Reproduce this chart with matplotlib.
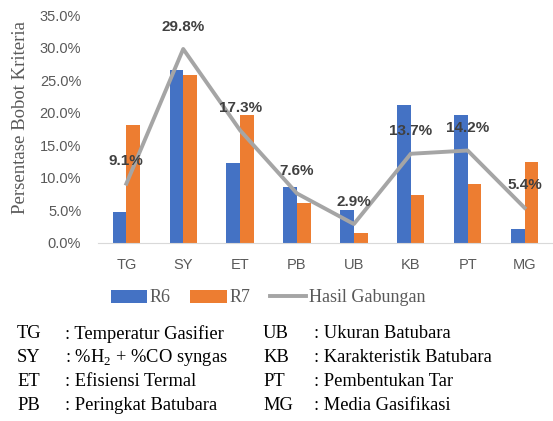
import numpy as np
import matplotlib
matplotlib.use('Agg')
import matplotlib.pyplot as plt

plt.rcParams['mathtext.fontset'] = 'custom'
plt.rcParams['mathtext.rm'] = 'Liberation Serif'

# data (percent)
categories = ['TG', 'SY', 'ET', 'PB', 'UB', 'KB', 'PT', 'MG']
r6 = [4.8, 26.5, 12.3, 8.6, 5.0, 21.2, 19.7, 2.1]
r7 = [18.1, 25.8, 19.7, 6.2, 1.5, 7.3, 9.1, 12.5]
gabungan = [9.1, 29.8, 17.3, 7.6, 2.9, 13.7, 14.2, 5.4]

legend_left = [('TG', 'Temperatur Gasifier'), ('SY', '%H$_2$ + %CO syngas'),
               ('ET', 'Efisiensi Termal'), ('PB', 'Peringkat Batubara')]
legend_right = [('UB', 'Ukuran Batubara'), ('KB', 'Karakteristik Batubara'),
                ('PT', 'Pembentukan Tar'), ('MG', 'Media Gasifikasi')]

BLUE = '#4472C4'
ORANGE = '#ED7D31'
GREY = '#A5A5A5'
TXT = '#595959'

fig = plt.figure(figsize=(5.53, 4.21), dpi=100)
ax = fig.add_axes([0.177, 0.423, 0.823, 0.541])

x = np.arange(len(categories))
w = 0.24
b1 = ax.bar(x - w / 2, r6, w, color=BLUE, label='R6')
b2 = ax.bar(x + w / 2, r7, w, color=ORANGE, label='R7')
ln, = ax.plot(x, gabungan, color=GREY, lw=2.8, label='Hasil Gabungan')

for xi, v in zip(x, gabungan):
    ax.annotate(f'{v:.1f}%', (xi, v), xytext=(0, 11), textcoords='offset points',
                ha='center', va='bottom', fontsize=11, fontweight='bold',
                color='#404040', family='Liberation Sans')

ax.set_xlim(-0.5, len(categories) - 0.5)
ax.set_ylim(0, 35)
ax.set_yticks(np.arange(0, 36, 5))
ax.set_yticklabels([f'{t:.1f}%' for t in np.arange(0, 36, 5)])
ax.set_xticks(x)
ax.set_xticklabels(categories)
for s in ['top', 'right', 'left']:
    ax.spines[s].set_visible(False)
ax.spines['bottom'].set_color('#D9D9D9')
ax.tick_params(length=0, labelsize=10.5, colors=TXT)
ax.tick_params(axis='y', pad=12)
ax.tick_params(axis='x', pad=11)
for lab in ax.get_xticklabels() + ax.get_yticklabels():
    lab.set_family('Liberation Sans')
ax.set_ylabel('Persentase Bobot Kriteria', family='Liberation Serif',
              fontsize=13.5, color=TXT)
ax.yaxis.set_label_coords(-0.152, 0.55)

fig.legend(handles=[b1, b2, ln], loc='center', bbox_to_anchor=(268 / 553, 1 - 298 / 421),
           ncol=3, frameon=False, prop={'family': 'Liberation Serif', 'size': 13},
           labelcolor=TXT, handlelength=2.0, handletextpad=0.15, columnspacing=1.1)

rows_y = [334, 358, 382, 406]
for (a, d), yy in zip(legend_left, rows_y):
    fig.text(17 / 553, 1 - yy / 421, a, family='Liberation Serif', fontsize=13.3, va='center')
    fig.text(65 / 553, 1 - yy / 421, ': ' + d, family='Liberation Serif', fontsize=13.3, va='center')
for (a, d), yy in zip(legend_right, rows_y):
    fig.text(263 / 553, 1 - yy / 421, a, family='Liberation Serif', fontsize=13.3, va='center')
    fig.text(314 / 553, 1 - yy / 421, ': ' + d, family='Liberation Serif', fontsize=13.3, va='center')

fig.savefig('out.png', dpi=100)
